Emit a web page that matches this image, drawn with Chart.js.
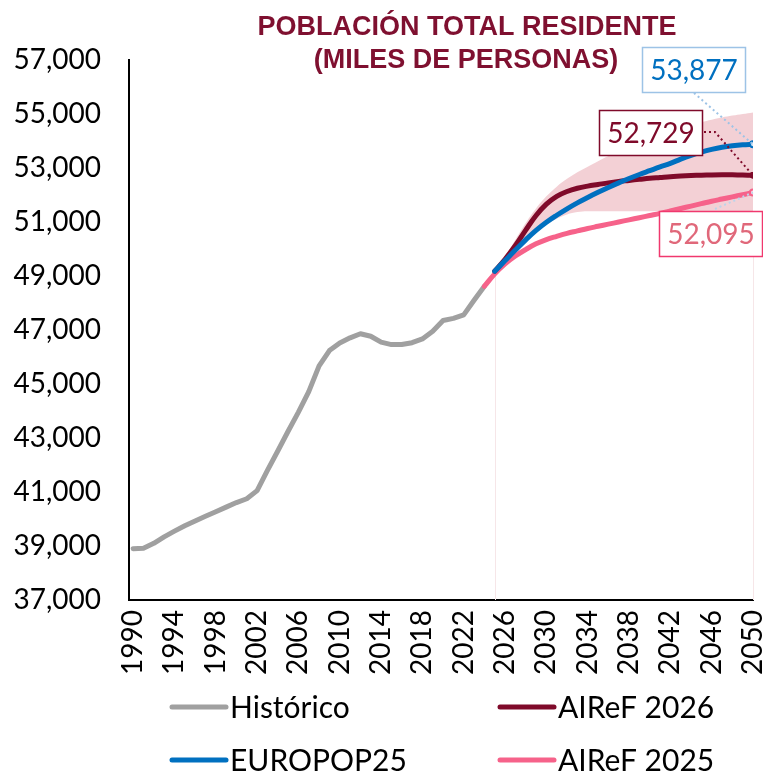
<!DOCTYPE html>
<html>
<head>
<meta charset="utf-8">
<script src="https://cdn.jsdelivr.net/npm/chart.js@4.4.0/dist/chart.umd.min.js"></script>
<style>
  html, body { margin: 0; padding: 0; background: #fff; }
  #wrap { width: 763px; height: 771px; }
</style>
</head>
<body>
<div id="wrap"><canvas id="popChart" width="763" height="771"></canvas></div>
<script>
// historic series 1990-2024 (miles de personas)
var histYears = [1990,1991,1992,1993,1994,1995,1996,1997,1998,1999,2000,2001,2002,2003,2004,2005,2006,2007,2008,2009,2010,2011,2012,2013,2014,2015,2016,2017,2018,2019,2020,2021,2022,2023,2024];
var historico = [38900,38920,39100,39340,39550,39750,39930,40100,40270,40440,40610,40750,41050,41800,42520,43250,43960,44720,45670,46240,46520,46710,46860,46770,46550,46460,46460,46530,46670,46950,47350,47430,47560,48100,48620];

// projections
var aireF25Years = [2024,2025,2026,2027,2028,2029,2030,2031,2032,2033,2034,2035,2036,2037,2038,2039,2040,2041,2042,2043,2044,2045,2046,2047,2048,2049,2050];
var aireF2025 = [48620,49080,49450,49740,49980,50190,50350,50470,50580,50670,50760,50840,50920,51000,51080,51160,51240,51320,51410,51500,51590,51680,51770,51850,51930,52010,52095];

var projYears = [2025,2026,2027,2028,2029,2030,2031,2032,2033,2034,2035,2036,2037,2038,2039,2040,2041,2042,2043,2044,2045,2046,2047,2048,2049,2050];
var aireF2026 = [49180,49620,50130,50700,51240,51660,51950,52130,52250,52330,52390,52450,52500,52540,52580,52620,52650,52680,52700,52720,52735,52745,52750,52748,52740,52729];
var europop25 = [49180,49570,49960,50340,50690,50990,51250,51490,51710,51910,52100,52280,52450,52610,52760,52900,53040,53170,53330,53470,53590,53690,53770,53825,53860,53877];
var bandHigh  = [49180,49720,50340,50960,51500,51950,52310,52600,52840,53050,53250,53440,53620,53790,53950,54100,54240,54370,54490,54600,54700,54790,54870,54940,55000,55060];
var bandLow   = [49180,49540,49920,50280,50620,50900,51120,51280,51370,51400,51400,51400,51400,51400,51400,51400,51400,51400,51400,51400,51400,51400,51400,51400,51400,51400];

var xTickYears = [1990,1994,1998,2002,2006,2010,2014,2018,2022,2026,2030,2034,2038,2042,2046,2050];
var yMin = 37000, yMax = 57000, yStep = 2000;

var GRAY = '#a0a0a0', WINE = '#7f0a2a', BLUE = '#0070c0', PINK = '#f6628a', BAND = 'rgba(240,196,203,0.8)';

function pts(xs, ys) {
  return xs.map(function(x, i) { return {x: x, y: ys[i]}; });
}
function fmt(v) { return v.toLocaleString('en-US'); }
function lastDot(n) {
  return function(c) { return c.dataIndex === n - 1 ? 3 : 0; };
}

// title, boxes with leaders, faint verticals, legend
var decor = {
  id: 'decor',
  beforeDatasetsDraw: function(chart) {
    var ctx = chart.ctx, xs = chart.scales.x, ys = chart.scales.y;
    ctx.save();
    ctx.strokeStyle = '#f6e6e8';
    ctx.lineWidth = 1;
    [projYears[0], projYears[projYears.length - 1]].forEach(function(yr, k) {
      var px = Math.round(xs.getPixelForValue(yr)) + 0.5;
      var low = k === 0 ? bandLow[0] : bandLow[bandLow.length - 1];
      ctx.beginPath();
      ctx.moveTo(px, ys.getPixelForValue(low));
      ctx.lineTo(px, chart.chartArea.bottom);
      ctx.stroke();
    });
    ctx.restore();
  },
  afterDatasetsDraw: function(chart) {
    var ctx = chart.ctx, xs = chart.scales.x, ys = chart.scales.y;
    var xEnd = xs.getPixelForValue(2050);
    ctx.save();

    // title
    ctx.fillStyle = '#7f1030';
    ctx.font = 'bold 27px "Liberation Sans", Arial, sans-serif';
    ctx.textAlign = 'center';
    ctx.textBaseline = 'alphabetic';
    ctx.fillText('POBLACIÓN TOTAL RESIDENTE', 467, 35);
    ctx.fillText('(MILES DE PERSONAS)', 466, 68);

    var boxes = [
      {v: europop25[europop25.length - 1], x: 642, y: 47, border: '#9dc3e6', text: BLUE, lead: '#9dc3e6', path: [[694, 93]]},
      {v: aireF2026[aireF2026.length - 1], x: 599, y: 110, border: WINE, text: WINE, lead: WINE, path: [[704, 132], [715, 132]]},
      {v: aireF2025[aireF2025.length - 1], x: 659, y: 211, border: '#f0386e', text: '#e0687a', lead: '#bcd4ea', path: [[715, 209]]}
    ];
    boxes.forEach(function(b) {
      var ey = ys.getPixelForValue(b.v);
      ctx.setLineDash([2, 3]);
      ctx.lineWidth = 2;
      ctx.strokeStyle = b.lead;
      ctx.beginPath();
      ctx.moveTo(b.path[0][0], b.path[0][1]);
      for (var i = 1; i < b.path.length; i++) ctx.lineTo(b.path[i][0], b.path[i][1]);
      ctx.lineTo(xEnd, ey);
      ctx.stroke();
      ctx.setLineDash([]);
      ctx.fillStyle = '#fff';
      ctx.fillRect(b.x, b.y, 103, 45);
      ctx.lineWidth = 1.5;
      ctx.strokeStyle = b.border;
      ctx.strokeRect(b.x + 0.5, b.y + 0.5, 103, 45);
      ctx.fillStyle = b.text;
      ctx.font = '28px Lato, sans-serif';
      ctx.textAlign = 'center';
      ctx.textBaseline = 'middle';
      ctx.fillText(fmt(b.v), b.x + 52, b.y + 24);
    });

    // legend, two columns
    var items = [
      {label: 'Histórico', color: GRAY, x: 172, y: 707},
      {label: 'AIReF 2026', color: WINE, x: 500, y: 707},
      {label: 'EUROPOP25', color: BLUE, x: 172, y: 760},
      {label: 'AIReF 2025', color: PINK, x: 500, y: 760}
    ];
    ctx.font = '30px Lato, sans-serif';
    ctx.textAlign = 'left';
    ctx.textBaseline = 'middle';
    items.forEach(function(it) {
      ctx.strokeStyle = it.color;
      ctx.lineWidth = 5;
      ctx.lineCap = 'round';
      ctx.beginPath();
      ctx.moveTo(it.x, it.y);
      ctx.lineTo(it.x + 54, it.y);
      ctx.stroke();
      ctx.fillStyle = '#000';
      ctx.fillText(it.label, it.x + 58, it.y + 1);
    });
    ctx.restore();
  }
};

var ctx = document.getElementById('popChart').getContext('2d');
var popChart = new Chart(ctx, {
  type: 'line',
  data: {
    datasets: [
      {label: 'EUROPOP25', data: pts(projYears, europop25), borderColor: BLUE, borderWidth: 5,
        tension: 0.4, pointRadius: lastDot(projYears.length), pointBackgroundColor: '#cfe2f3', pointBorderColor: BLUE, pointBorderWidth: 2, fill: false},
      {label: 'AIReF 2026', data: pts(projYears, aireF2026), borderColor: WINE, borderWidth: 5,
        tension: 0.4, pointRadius: lastDot(projYears.length), pointBackgroundColor: WINE, pointBorderColor: WINE, pointBorderWidth: 1, fill: false},
      {label: 'AIReF 2025', data: pts(aireF25Years, aireF2025), borderColor: PINK, borderWidth: 5,
        tension: 0.4, pointRadius: lastDot(aireF25Years.length), pointBackgroundColor: '#fde3ea', pointBorderColor: PINK, pointBorderWidth: 2, fill: false},
      {label: 'Histórico', data: pts(histYears, historico), borderColor: GRAY, borderWidth: 5,
        tension: 0, pointRadius: 0, fill: false},
      {label: 'banda', data: pts(projYears, bandHigh), borderWidth: 0, borderColor: 'transparent',
        backgroundColor: BAND, tension: 0.4, pointRadius: 0, fill: '+1'},
      {label: 'banda_inf', data: pts(projYears, bandLow), borderWidth: 0, borderColor: 'transparent',
        tension: 0.4, pointRadius: 0, fill: false}
    ]
  },
  options: {
    responsive: false,
    animation: false,
    layout: { padding: { top: 60, right: 10, bottom: 91, left: 0 } },
    elements: { line: { borderCapStyle: 'round', borderJoinStyle: 'round' } },
    plugins: { legend: { display: false }, tooltip: { enabled: false }, title: { display: false } },
    scales: {
      x: {
        type: 'linear',
        min: 1989.6,
        max: 2050,
        grid: { display: false, drawTicks: false },
        border: { display: true, color: '#000', width: 2 },
        afterBuildTicks: function(s) { s.ticks = xTickYears.map(function(v) { return {value: v}; }); },
        afterFit: function(s) { s.height = 80; s.paddingLeft = 0; s.paddingRight = 0; },
        ticks: {
          autoSkip: false, minRotation: 90, maxRotation: 90, padding: 10, color: '#000',
          font: { family: 'Lato', size: 28 },
          callback: function(v) { return String(v); }
        }
      },
      y: {
        min: yMin,
        max: yMax,
        grid: { display: false, drawTicks: false },
        border: { display: true, color: '#000', width: 2 },
        afterFit: function(s) { s.width = 129; s.paddingTop = 0; s.paddingBottom = 0; },
        ticks: {
          stepSize: yStep, padding: 28, color: '#000',
          font: { family: 'Lato', size: 28 },
          callback: function(v) { return fmt(v); }
        }
      }
    }
  },
  plugins: [decor]
});
</script>
</body>
</html>
